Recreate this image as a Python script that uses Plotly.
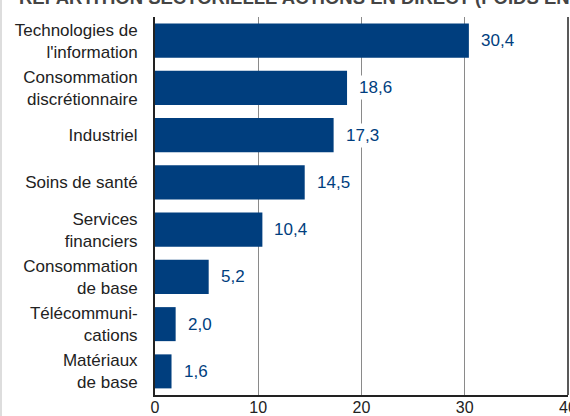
import plotly.graph_objects as go

categories = [
    "Technologies de<br>l'information",
    "Consommation<br>discrétionnaire",
    "Industriel",
    "Soins de santé",
    "Services<br>financiers",
    "Consommation<br>de base",
    "Télécommuni-<br>cations",
    "Matériaux<br>de base",
]
values = [30.4, 18.6, 17.3, 14.5, 10.4, 5.2, 2.0, 1.6]
value_labels = ["30,4", "18,6", "17,3", "14,5", "10,4", "5,2", "2,0", "1,6"]
x_ticks = [0, 10, 20, 30, 40]
title_text = "RÉPARTITION SECTORIELLE ACTIONS EN DIRECT (POIDS EN %)"

BAR = "#003e7e"
FONT = "Liberation Sans, Arial, sans-serif"
PW, PH = 413, 378

fig = go.Figure()
fig.add_trace(go.Bar(
    x=values, y=categories, orientation="h",
    marker=dict(color=BAR, line=dict(width=0)),
    hoverinfo="skip",
))

annotations = []
for v, lab, cat in zip(values, value_labels, categories):
    annotations.append(dict(
        x=v, y=cat, xref="x", yref="y", text=lab, showarrow=False,
        xanchor="left", yanchor="middle", xshift=9,
        font=dict(family=FONT, size=17, color=BAR),
        bgcolor="white", borderpad=2,
    ))
annotations.append(dict(
    x=(17 - 155) / PW, y=1.0, xref="paper", yref="paper",
    text="<b>" + title_text + "</b>", showarrow=False,
    xanchor="left", yanchor="bottom", yshift=7,
    font=dict(family=FONT, size=18.5, color="#444444"),
))

fig.update_layout(
    width=570, height=416,
    margin=dict(l=155, r=2, t=17, b=21, autoexpand=False),
    paper_bgcolor="white", plot_bgcolor="white",
    bargap=0.28,
    showlegend=False,
    annotations=annotations,
    xaxis=dict(
        range=[0, 40], tickvals=x_ticks, ticktext=[str(t) for t in x_ticks],
        showgrid=True, gridcolor="#8a8a8a", gridwidth=1,
        showline=True, linecolor="#222222", linewidth=2,
        ticks="", zeroline=False, automargin=False, ticklabelstandoff=-3,
        ticklabeloverflow="allow",
        tickfont=dict(family=FONT, size=16, color="#222222"),
    ),
    yaxis=dict(
        autorange="reversed", automargin=False,
        showline=True, linecolor="#222222", linewidth=2,
        ticks="", ticklabelstandoff=12,
        tickfont=dict(family=FONT, size=17, color="#222222"),
    ),
    shapes=[
        dict(type="line", xref="paper", yref="paper", x0=1, x1=1, y0=0, y1=1,
             line=dict(color="#222222", width=1.5), layer="above"),
        dict(type="line", xref="paper", yref="paper", x0=-154 / PW, x1=-154 / PW,
             y0=-21 / PH, y1=1 + 17 / PH, line=dict(color="#dddddd", width=2)),
    ],
)

fig.write_html(
    "out.html",
    config={"displayModeBar": False},
    post_script="document.body.style.margin='0';document.body.style.overflow='hidden';",
)
